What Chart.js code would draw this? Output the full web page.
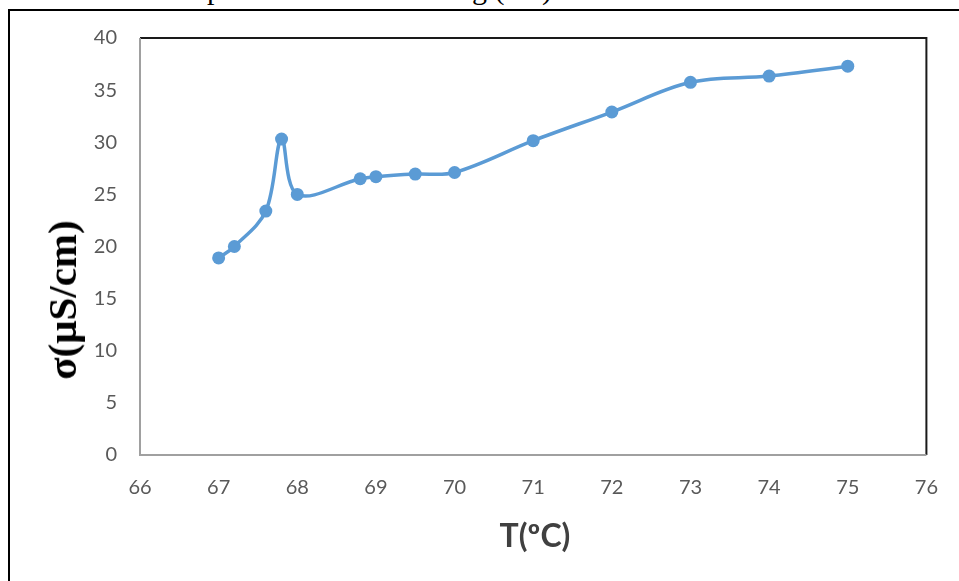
<!DOCTYPE html>
<html lang="en">
<head>
    <meta charset="UTF-8">
    <title>Conductivity vs Temperature</title>
    <script src="https://cdn.jsdelivr.net/npm/chart.js"></script>
    <style>
        html, body { margin: 0; padding: 0; background: #fff; overflow: hidden; }
        #page { position: relative; width: 959px; height: 581px; overflow: hidden; }
        .doc { position: absolute; top: -26px; font: 30px/30px "Liberation Serif", "Times New Roman", serif; color: #000; white-space: nowrap; }
        #frame { position: absolute; left: 8px; top: 9px; width: 1000px; height: 600px; border-left: 2px solid #000; border-top: 2px solid #000; }
        #ytitle { position: absolute; left: 62px; top: 300px; transform: translate(-50%, -50%) rotate(-90deg);
                  font: bold 41px "Liberation Serif", "Times New Roman", serif; color: #000; white-space: nowrap; }
        #xtitle { position: absolute; left: 535px; top: 534px; transform: translate(-50%, -50%);
                  font: bold 32px Lato, "Open Sans", sans-serif; color: #404040; white-space: nowrap; }
        canvas { position: absolute; left: 0; top: 0; }
    </style>
</head>
<body>
<div id="page">
    <div class="doc" style="right: 752px;">ation was&nbsp;</div>
    <div class="doc" style="left: 207px;">plotted as shown in Fig (4.6).</div>
    <div id="frame"></div>
    <canvas id="condChart" width="959" height="581"></canvas>
    <div id="ytitle">σ(μS/cm)</div>
    <div id="xtitle">T(ºC)</div>
</div>
<script>
    // temperature (°C) and conductivity (µS/cm)
    const temps = [67, 67.2, 67.6, 67.8, 68, 68.8, 69, 69.5, 70, 71, 72, 73, 74, 75];
    const sigma = [18.9, 20.0, 23.4, 30.3, 25.0, 26.5, 26.7, 26.95, 27.1, 30.15, 32.9, 35.75, 36.35, 37.3];

    // axis ranges
    const xMin = 66, xMax = 76, xStep = 1;
    const yMin = 0, yMax = 40, yStep = 5;

    const lineColor = '#5B9BD5';

    // plot area frame: grey axes on left/bottom, dark edges on top/right
    const plotFrame = {
        id: 'plotFrame',
        beforeDatasetsDraw(chart) {
            const a = chart.chartArea;
            const ctx = chart.ctx;
            ctx.save();
            ctx.lineWidth = 2;
            ctx.strokeStyle = '#1a1a1a';
            ctx.beginPath();
            ctx.moveTo(a.left, a.top);
            ctx.lineTo(a.right, a.top);
            ctx.lineTo(a.right, a.bottom);
            ctx.stroke();
            ctx.strokeStyle = '#a0a0a0';
            ctx.beginPath();
            ctx.moveTo(a.left, a.top);
            ctx.lineTo(a.left, a.bottom);
            ctx.lineTo(a.right, a.bottom);
            ctx.stroke();
            ctx.restore();
        }
    };

    const ctx = document.getElementById('condChart').getContext('2d');
    new Chart(ctx, {
        type: 'line',
        data: {
            datasets: [{
                data: temps.map((t, i) => ({ x: t, y: sigma[i] })),
                borderColor: lineColor,
                backgroundColor: lineColor,
                borderWidth: 3.5,
                pointRadius: 6.5,
                pointBorderWidth: 0,
                pointBackgroundColor: lineColor,
                tension: 0.35,
                fill: false
            }]
        },
        options: {
            responsive: false,
            devicePixelRatio: 1,
            animation: false,
            layout: { padding: { top: 38, right: 30, left: 0, bottom: 0 } },
            plugins: {
                legend: { display: false },
                tooltip: { enabled: false }
            },
            scales: {
                x: {
                    type: 'linear',
                    min: xMin,
                    max: xMax,
                    grid: { display: false, drawTicks: false },
                    border: { display: false },
                    ticks: {
                        stepSize: xStep,
                        padding: 21,
                        color: '#595959',
                        font: { family: 'Lato', size: 20 }
                    },
                    afterFit(scale) { scale.height = 126; }
                },
                y: {
                    min: yMin,
                    max: yMax,
                    grid: { display: false, drawTicks: false },
                    border: { display: false },
                    ticks: {
                        stepSize: yStep,
                        padding: 23,
                        color: '#595959',
                        font: { family: 'Lato', size: 20 }
                    },
                    afterFit(scale) { scale.width = 140; }
                }
            }
        },
        plugins: [plotFrame]
    });
</script>
</body>
</html>
